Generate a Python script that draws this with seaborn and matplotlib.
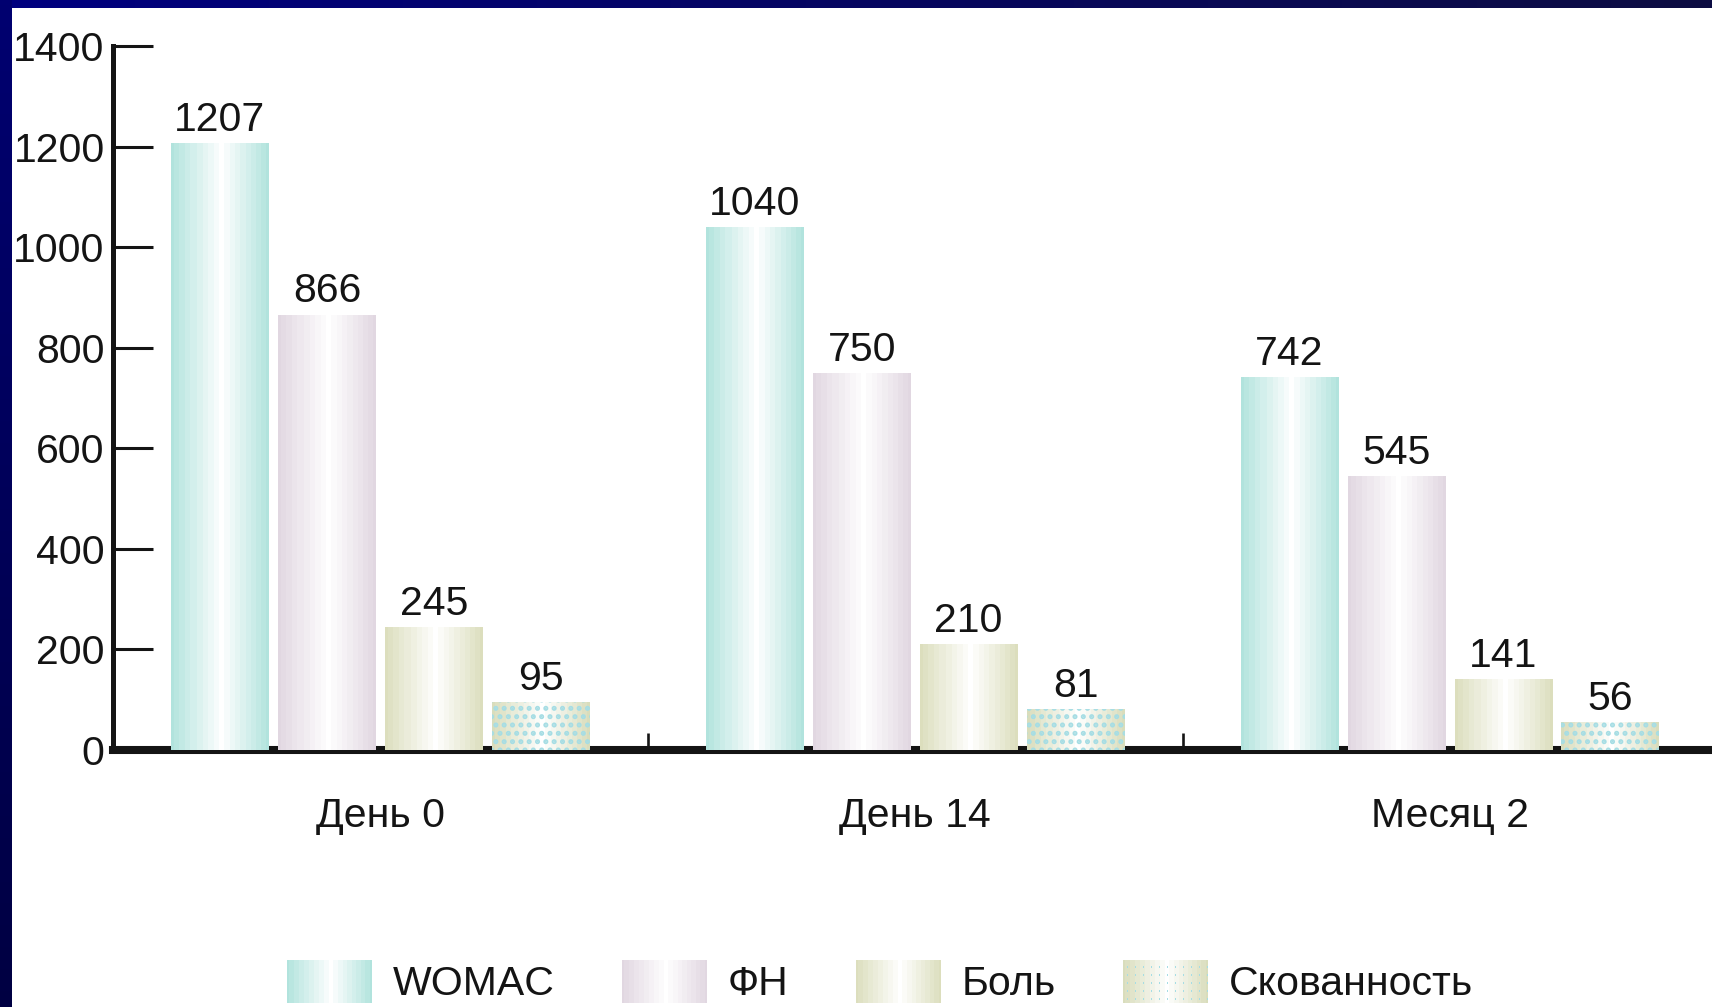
import numpy as np
import pandas as pd
import seaborn as sns
import matplotlib.pyplot as plt
from matplotlib.patches import Rectangle
from matplotlib.colors import to_rgb
from matplotlib.ticker import FixedLocator

# --- data -------------------------------------------------------------
periods = ["День 0", "День 14", "Месяц 2"]
series_names = ["WOMAC", "ФН", "Боль", "Скованность"]
womac = [1207, 1040, 742]
fn = [866, 750, 545]
pain = [245, 210, 141]
stiffness = [95, 81, 56]
y_ticks = [0, 200, 400, 600, 800, 1000, 1200, 1400]

series_values = [womac, fn, pain, stiffness]
rows = [(p, s, v) for s, vals in zip(series_names, series_values)
        for p, v in zip(periods, vals)]
df = pd.DataFrame(rows, columns=["period", "series", "value"])

# --- style ------------------------------------------------------------
bar_colors = ["#b1e3dd", "#e1d7e1", "#dcdebd", "#d9ddbc"]
dot_color = "#a6dde4"
ink = "#141414"
FS = 29.5

sns.set_theme(style="white")
plt.rcParams["font.family"] = ["Liberation Sans", "DejaVu Sans"]
plt.rcParams["hatch.linewidth"] = 2.4


def gradient_strip(color, ncols=96, bands=9, centre=0.52):
    """One row of a banded colour -> white -> colour cylinder shading."""
    u = (np.arange(ncols) + 0.5) / ncols
    t = np.where(u < centre, (centre - u) / centre, (u - centre) / (1 - centre))
    t = np.round(t * bands) / bands
    base = np.array(to_rgb(color))
    row = 1 - (1 - base)[None, :] * t[:, None]
    return row[None, :, :]


fig = plt.figure(figsize=(17.12, 10.07), dpi=100)
fig.patch.set_facecolor("white")
ax = fig.add_axes([0.066, 0.2552, 0.934, 0.699])

sns.barplot(data=df, x="period", y="value", hue="series",
            order=periods, hue_order=series_names, palette=bar_colors,
            saturation=1, width=0.8, gap=0.085, errorbar=None,
            linewidth=0, legend=False, ax=ax)

# cylinder-like shading on every bar, dotted texture on the last series
for i, cont in enumerate(ax.containers):
    for bar in cont.patches:
        x0, w, h = bar.get_x(), bar.get_width(), bar.get_height()
        img = ax.imshow(gradient_strip(bar_colors[i]), extent=(x0, x0 + w, 0, h),
                        aspect="auto", interpolation="nearest", zorder=2.1)
        img.set_clip_path(bar)
        if i == 3:
            ax.add_patch(Rectangle((x0, 0), w, h, facecolor="none",
                                   edgecolor=dot_color, linewidth=0,
                                   hatch="..", zorder=2.2))

for cont in ax.containers:
    ax.bar_label(cont, labels=[f"{v:.0f}" for v in cont.datavalues],
                 padding=3, fontsize=FS, color=ink, zorder=3)

# --- axes -------------------------------------------------------------
ax.set_xlim(-0.5, 2.49)
ax.set_ylim(0, 1400)
ax.set_yticks(y_ticks)
ax.set_yticklabels([str(t) for t in y_ticks])
ax.set_xlabel("")
ax.set_ylabel("")
ax.grid(False)
ax.set_facecolor("white")

ax.tick_params(axis="y", left=True, direction="in", length=29, width=2.2,
               color=ink, labelsize=FS, labelcolor=ink, pad=6)
ax.tick_params(axis="x", which="major", bottom=True, length=0, pad=34,
               labelsize=FS, labelcolor=ink)
ax.xaxis.set_minor_locator(FixedLocator([0.5, 1.5]))
ax.tick_params(axis="x", which="minor", bottom=True, direction="in",
               length=12, width=1.9, color=ink)

for side in ("top", "right"):
    ax.spines[side].set_visible(False)
ax.spines["left"].set_linewidth(3.6)
ax.spines["left"].set_color(ink)
ax.spines["bottom"].set_linewidth(5.8)
ax.spines["bottom"].set_color(ink)
ax.spines["bottom"].set_zorder(1.9)

# --- legend -----------------------------------------------------------
handles = [cont.patches[0] for cont in ax.containers]
leg = ax.legend(handles, series_names, loc="lower center",
                bbox_to_anchor=(0.514, 0.004), bbox_transform=fig.transFigure,
                ncol=4, frameon=False, fontsize=FS, labelcolor=ink,
                handlelength=2.08, handleheight=1.25, handletextpad=0.5,
                columnspacing=1.64, borderpad=0, borderaxespad=0)

fig.canvas.draw()
renderer = fig.canvas.get_renderer()
for i, h in enumerate(leg.legend_handles):
    bb = h.get_window_extent(renderer)
    w, hh = int(round(bb.width)), int(round(bb.height))
    arr = np.repeat(gradient_strip(bar_colors[i], ncols=w), hh, axis=0).copy()
    if i == 3:
        arr[3::8, 4::8] = to_rgb(dot_color)
        arr[4::8, 4::8] = to_rgb(dot_color)
    fig.figimage(arr, xo=int(round(bb.x0)), yo=int(round(bb.y0)),
                 origin="lower", zorder=5)

# --- navy frame along the top and left edges --------------------------
W, H = 1712, 1007
top_band = np.zeros((8, W, 3))
top_band[..., 2] = np.linspace(0.50, 0.26, W)[None, :]
top_band[..., 0] = np.linspace(0.0, 0.05, W)[None, :]
top_band[..., 1] = np.linspace(0.0, 0.05, W)[None, :]
fig.figimage(top_band, xo=0, yo=H - 8, origin="lower", zorder=6)

left_band = np.zeros((H, 12, 3))
left_band[..., 2] = np.linspace(0.26, 0.44, H)[:, None]
fig.figimage(left_band, xo=0, yo=0, origin="lower", zorder=6)

fig.savefig("out.png", dpi=100, facecolor="white")
